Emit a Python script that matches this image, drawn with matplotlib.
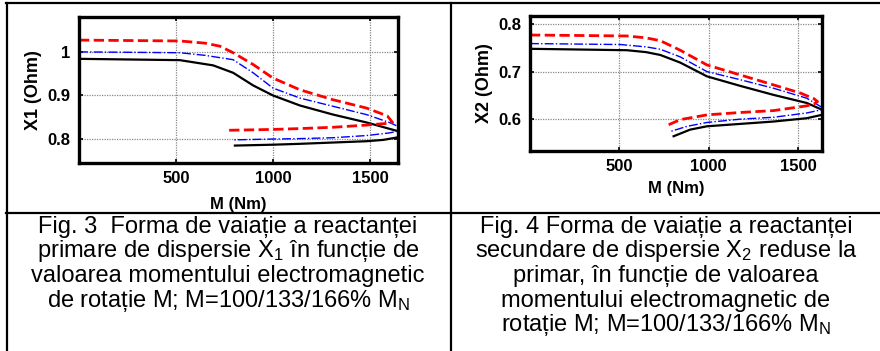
import matplotlib
matplotlib.use("Agg")
import matplotlib.pyplot as plt
from matplotlib.lines import Line2D

plt.rcParams['font.family'] = ['Liberation Sans', 'DejaVu Sans']
plt.rcParams['mathtext.fontset'] = 'custom'
plt.rcParams['mathtext.rm'] = 'Liberation Sans'
plt.rcParams['mathtext.it'] = 'Liberation Sans:italic'

# Fig. 3 - X1 vs M (curve goes up to Mmax and back)
x1_red_m = [0, 520, 650, 727, 795, 898, 1000, 1139, 1311, 1483, 1590, 1617, 1590, 1483, 1311, 1139, 1000, 880, 761]
x1_red_v = [1.027, 1.025, 1.020, 1.013, 0.998, 0.971, 0.940, 0.913, 0.890, 0.871, 0.853, 0.838, 0.836, 0.832, 0.827, 0.824, 0.822, 0.821, 0.820]
x1_blue_m = [0, 520, 650, 795, 898, 1000, 1139, 1311, 1483, 1600, 1645, 1680, 1645, 1600, 1483, 1311, 1139, 1000, 795]
x1_blue_v = [1.000, 0.998, 0.992, 0.982, 0.952, 0.917, 0.894, 0.875, 0.856, 0.838, 0.829, 0.823, 0.818, 0.814, 0.808, 0.803, 0.801, 0.800, 0.798]
x1_black_m = [0, 520, 692, 795, 898, 1000, 1139, 1311, 1483, 1645, 1690, 1645, 1569, 1483, 1311, 1139, 1000, 804]
x1_black_v = [0.984, 0.981, 0.969, 0.952, 0.923, 0.900, 0.877, 0.856, 0.838, 0.818, 0.810, 0.804, 0.798, 0.795, 0.792, 0.789, 0.787, 0.785]

# Fig. 4 - X2 vs M
x2_red_m = [0, 543, 650, 730, 841, 991, 1177, 1364, 1513, 1590, 1610, 1590, 1550, 1364, 1177, 991, 841, 757]
x2_red_v = [0.777, 0.775, 0.771, 0.765, 0.745, 0.714, 0.693, 0.672, 0.655, 0.643, 0.637, 0.632, 0.628, 0.618, 0.614, 0.609, 0.599, 0.585]
x2_blue_m = [0, 506, 650, 730, 841, 991, 1177, 1364, 1550, 1634, 1670, 1634, 1550, 1364, 1177, 991, 880, 786]
x2_blue_v = [0.759, 0.757, 0.752, 0.747, 0.731, 0.700, 0.683, 0.665, 0.644, 0.625, 0.621, 0.620, 0.613, 0.604, 0.600, 0.593, 0.585, 0.574]
x2_black_m = [0, 543, 650, 730, 841, 991, 1177, 1364, 1550, 1634, 1680, 1634, 1550, 1364, 1177, 991, 897, 804]
x2_black_v = [0.748, 0.745, 0.741, 0.735, 0.719, 0.690, 0.670, 0.651, 0.634, 0.620, 0.614, 0.609, 0.602, 0.595, 0.590, 0.585, 0.578, 0.564]

x_ticks = [500, 1000, 1500]
x1_ticks = [0.8, 0.9, 1]
x2_ticks = [0.6, 0.7, 0.8]

caption3 = ["Fig. 3  Forma de vaiație a reactanței",
            "primare de dispersie X$_1$ în funcție de",
            "valoarea momentului electromagnetic",
            "de rotație M; M=100/133/166% M$_\\mathrm{N}$"]
caption4 = ["Fig. 4 Forma de vaiație a reactanței",
            "secundare de dispersie X$_2$ reduse la",
            "primar, în funcție de valoarea",
            "momentului electromagnetic de",
            "rotație M; M=100/133/166% M$_\\mathrm{N}$"]

W, H = 880, 351
fig = plt.figure(figsize=(W / 100, H / 100), dpi=100)


def px_axes(left, top, right, bottom):
    return fig.add_axes([left / W, 1 - bottom / H, (right - left) / W, (bottom - top) / H])


def style(ax, ylabel, yticks, xlim, ylim, labelpad):
    ax.set_xlim(*xlim)
    ax.set_ylim(*ylim)
    ax.set_xticks(x_ticks)
    ax.set_yticks(yticks)
    ax.set_yticklabels([f"{t:g}" for t in yticks])
    ax.grid(True, color='#888888', linestyle=(0, (1, 1)), linewidth=0.9)
    ax.tick_params(direction='in', length=3, width=1.2, top=True, right=True, labelsize=12, pad=6)
    for lab in ax.get_xticklabels() + ax.get_yticklabels():
        lab.set_fontweight('bold')
    for sp in ax.spines.values():
        sp.set_linewidth(2.4)
    ax.set_xlabel("M (Nm)", fontsize=12, fontweight='bold', labelpad=labelpad)
    ax.set_ylabel(ylabel, fontsize=13, fontweight='bold', labelpad=4)


ax1 = px_axes(79, 17, 398, 163)
ax1.plot(x1_black_m, x1_black_v, color='black', linewidth=1.6)
ax1.plot(x1_blue_m, x1_blue_v, color='blue', linestyle='-.', linewidth=1.0)
ax1.plot(x1_red_m, x1_red_v, color='red', linestyle='--', linewidth=2.0)
style(ax1, "X1 (Ohm)", x1_ticks, (0, 1645), (0.745, 1.08), 8)

ax2 = px_axes(530, 16, 822, 151)
ax2.plot(x2_black_m, x2_black_v, color='black', linewidth=1.6)
ax2.plot(x2_blue_m, x2_blue_v, color='blue', linestyle='-.', linewidth=1.0)
ax2.plot(x2_red_m, x2_red_v, color='red', linestyle='--', linewidth=2.0)
style(ax2, "X2 (Ohm)", x2_ticks, (0, 1635), (0.533, 0.817), 5)

# table lines
lw = 1.6
fig.add_artist(Line2D([6 / W, 1], [1 - 3 / H, 1 - 3 / H], color='black', linewidth=lw))
fig.add_artist(Line2D([6 / W, 1], [1 - 213 / H, 1 - 213 / H], color='black', linewidth=lw))
fig.add_artist(Line2D([6.5 / W, 6.5 / W], [0, 1 - 3 / H], color='black', linewidth=lw))
fig.add_artist(Line2D([451 / W, 451 / W], [0, 1 - 3 / H], color='black', linewidth=lw))

y0, dy = 227, 24.5
for i, line in enumerate(caption3):
    fig.text(228 / W, 1 - (y0 + i * dy) / H, line, ha='center', va='center', fontsize=17)
for i, line in enumerate(caption4):
    fig.text(666 / W, 1 - (y0 + i * dy) / H, line, ha='center', va='center', fontsize=17)

fig.savefig("out.png", dpi=100)
